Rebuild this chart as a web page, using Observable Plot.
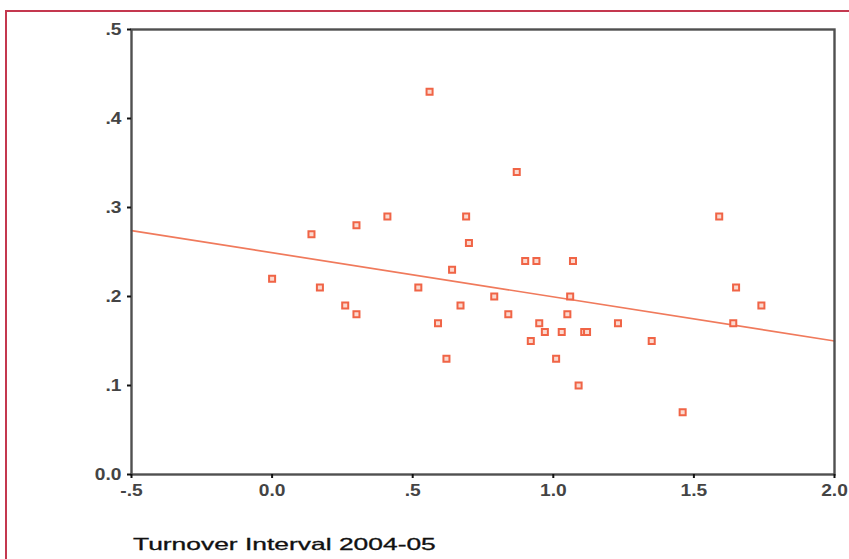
<!DOCTYPE html>
<html>
<head>
<meta charset="utf-8">
<script src="https://cdn.jsdelivr.net/npm/d3@7"></script>
<script src="https://cdn.jsdelivr.net/npm/@observablehq/plot@0.6"></script>
<style>
  html, body { margin: 0; padding: 0; background: #fff; }
  body { width: 849px; height: 559px; position: relative; overflow: hidden; font-family: "Liberation Sans", Arial, sans-serif; }
  #border { position: absolute; left: 5px; top: 10px; width: 900px; height: 600px; border-left: 2px solid #c4384f; border-top: 2px solid #c4384f; box-sizing: border-box; }
  #chart { position: absolute; left: 0; top: 0; }
  #chart svg { overflow: visible; }
  #xtitle { position: absolute; left: 133px; top: 536px; font-size: 16.5px; line-height: 1; color: #111; white-space: nowrap; transform: scaleX(1.6); transform-origin: left top; -webkit-text-stroke: 0.3px #111; }
</style>
</head>
<body>
<div id="border"></div>
<div id="chart"></div>
<div id="xtitle">Turnover Interval 2004-05</div>
<script>
// Scatter points: turnover interval (x) vs. value (y)
const turnoverInterval = [0.00, 0.14, 0.17, 0.26, 0.30, 0.30, 0.41, 0.52, 0.56, 0.59, 0.62, 0.64, 0.67, 0.69, 0.70, 0.79, 0.84, 0.87, 0.90, 0.92, 0.94, 0.95, 0.97, 1.01, 1.03, 1.05, 1.06, 1.07, 1.09, 1.11, 1.12, 1.23, 1.35, 1.46, 1.59, 1.64, 1.65, 1.74];
const outcome          = [0.22, 0.27, 0.21, 0.19, 0.28, 0.18, 0.29, 0.21, 0.43, 0.17, 0.13, 0.23, 0.19, 0.29, 0.26, 0.20, 0.18, 0.34, 0.24, 0.15, 0.24, 0.17, 0.16, 0.13, 0.16, 0.18, 0.20, 0.24, 0.10, 0.16, 0.16, 0.17, 0.15, 0.07, 0.29, 0.17, 0.21, 0.19];

// Fit line end points
const fitX = [-0.5, 2.0];
const fitY = [0.274, 0.150];

// Axis ticks and labels
const xTicks = [-0.5, 0, 0.5, 1.0, 1.5, 2.0];
const xTickLabels = ["-.5", "0.0", ".5", "1.0", "1.5", "2.0"];
const yTicks = [0, 0.1, 0.2, 0.3, 0.4, 0.5];
const yTickLabels = ["0.0", ".1", ".2", ".3", ".4", ".5"];

const points = turnoverInterval.map((x, i) => ({x, y: outcome[i]}));
const fit = fitX.map((x, i) => ({x, y: fitY[i]}));

const pointColor = "#f06446";

const chart = Plot.plot({
  width: 849,
  height: 500,
  marginLeft: 131,
  marginRight: 15,
  marginTop: 29,
  marginBottom: 26,
  style: { fontFamily: "'Liberation Sans', Arial, sans-serif", fontSize: "16px", fontWeight: "bold", color: "#444", background: "transparent", overflow: "visible" },
  x: { domain: [-0.5, 2.0], label: null },
  y: { domain: [0, 0.5], label: null },
  marks: [
    Plot.line(fit, { x: "x", y: "y", stroke: "#f07a5c", strokeWidth: 1.7 }),
    Plot.dot(points, { x: "x", y: "y", symbol: "square", r: 3.4, stroke: pointColor, strokeWidth: 2, fill: "#fbd9cf" }),
    Plot.frame({ stroke: "#505050", strokeWidth: 2.4 }),
    Plot.axisX({ ticks: xTicks, tickFormat: (d) => xTickLabels[xTicks.indexOf(d)], tickSize: 4, tickPadding: 6, stroke: "#111", strokeWidth: 2, fill: "#444", label: null }),
    Plot.axisY({ ticks: yTicks, tickFormat: (d) => yTickLabels[yTicks.findIndex(t => Math.abs(t - d) < 1e-9)], tickSize: 4, tickPadding: 6, stroke: "#111", strokeWidth: 2, fill: "#444", label: null })
  ]
});

// widen tick label glyphs a little, as in the reference
chart.querySelectorAll('g[aria-label="x-axis tick label"] text, g[aria-label="y-axis tick label"] text').forEach(t => {
  const tr = t.getAttribute("transform") || "";
  t.setAttribute("transform", tr + " scale(1.2,1)");
});

document.getElementById("chart").appendChild(chart);
</script>
</body>
</html>
